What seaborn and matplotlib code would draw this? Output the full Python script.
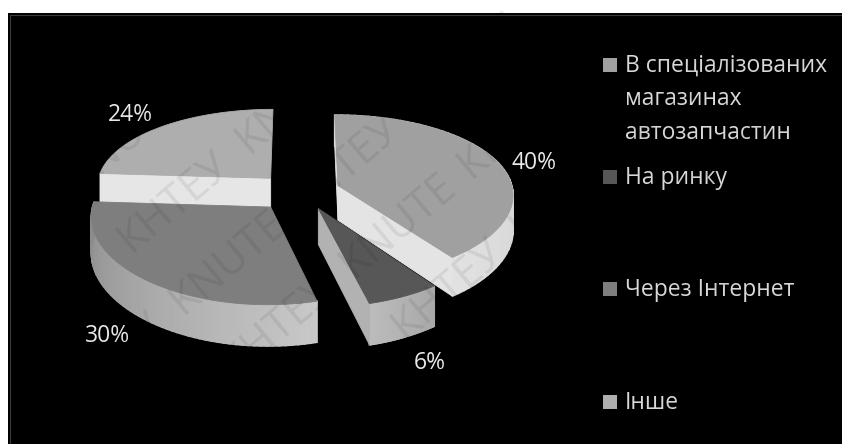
import numpy as np
import matplotlib
matplotlib.use("Agg")
import matplotlib.pyplot as plt
import seaborn as sns
from matplotlib.patches import Rectangle

sns.set_theme(style="white")
plt.rcParams['font.family'] = ['Open Sans', 'DejaVu Sans']

# data
categories = ["В спеціалізованих\nмагазинах\nавтозапчастин", "На ринку", "Через Інтернет", "Інше"]
shares = [40, 6, 30, 24]
top_colors = ["#a0a0a0", "#575757", "#7e7e7e", "#aeaeae"]
rim_colors = [["#b0b0b0", "#d0d0d0", "#e2e2e2"], ["#a8a8a8", "#bcbcbc"],
              ["#c8c8c8", "#a8a8a8", "#8a8a8a"], ["#9a9a9a", "#9a9a9a"]]
face_colors = ["#e4e4e4", "#b2b2b2", "#7e7e7e", "#e6e6e6"]
value_labels = ["40%", "6%", "30%", "24%"]

# projection of the tilted disc
cx, cy, a, b, k, kx, T, explode = 301.6, 191, 175, 81, 0.13, 0.10, 35, 0.22
nudge_x = [0, 0, -6, -5]
nudge_y = [0, 1, 2, 0]

def project(u, v, z=0.0):
    s = 1 / (1 + k * v)
    sx = 1 / (1 + kx * v)
    return cx + a * u * sx, cy - b * v * s + T * z * s

fig = plt.figure(figsize=(8.42, 4.44), dpi=100, facecolor="white")
ax = fig.add_axes([0, 0, 1, 1])
ax.set_xlim(0, 842)
ax.set_ylim(444, 0)
ax.axis("off")
ax.add_patch(Rectangle((8, 13), 840, 440, fc="black", ec="none", zorder=0))
ax.add_patch(Rectangle((10, 15), 840, 440, fc="none", ec="#3a3a3a", lw=0.8, zorder=0.5))

edges = np.cumsum([0] + shares) / sum(shares) * 2 * np.pi
order = [3, 2, 0, 1]
visible_cuts = {0: [0, 1], 1: [1], 2: [], 3: [0]}
z = 1.0
for i in order:
    t0, t1 = edges[i], edges[i + 1]
    mid = (t0 + t1) / 2
    ox, oy = explode * np.sin(mid), explode * np.cos(mid)
    th = np.linspace(t0, t1, 60)
    u = ox + np.sin(th)
    v = oy + np.cos(th)
    pal = sns.blend_palette(rim_colors[i], n_colors=len(th))
    nx, ny = nudge_x[i], nudge_y[i]
    if i != 3:  # the rim of the rear slice is hidden
        for j in range(len(th) - 1):
            x1, y1 = project(u[j:j + 2], v[j:j + 2])
            x2, y2 = project(u[j:j + 2], v[j:j + 2], 1.0)
            ax.fill(np.r_[x1, x2[::-1]] + nx, np.r_[y1, y2[::-1]] + ny, color=pal[j], lw=1.2, zorder=z)
            z += 0.001
    z += 1
    for c in visible_cuts[i]:
        tc = (t0, t1)[c]
        px = np.array([ox, ox + np.sin(tc)])
        py = np.array([oy, oy + np.cos(tc)])
        x1, y1 = project(px, py)
        x2, y2 = project(px, py, 1.0)
        ax.fill(np.r_[x1, x2[::-1]] + nx, np.r_[y1, y2[::-1]] + ny, color=face_colors[i], lw=0.6, zorder=z)
    z += 1
    x, y = project(np.r_[ox, u], np.r_[oy, v])
    ax.fill(x + nx, y + ny, color=top_colors[i], lw=0.6, zorder=z)
    z += 1

# value labels
label_pos = [(534, 163), (430, 363), (108, 336), (130, 115)]
for (lx, ly), s in zip(label_pos, value_labels):
    ax.text(lx, ly, s, color="#e8e8e8", fontsize=16.5, ha="center", va="center", zorder=60)

# legend
legend_y = [65, 177, 289, 402]
for yy, name, col in zip(legend_y, categories, top_colors):
    ax.add_patch(Rectangle((603, yy - 7), 14, 14, fc=col, ec="none", zorder=60))
    for n, line in enumerate(name.split("\n")):
        ax.text(625, yy + 0.5 + n * 33.5, line, color="#d8d8d8", fontsize=16.5,
                ha="left", va="center", zorder=60)

# watermark
renderer = fig.canvas.get_renderer()
words = ["КНТЕУ", "KNUTE"]
for row in range(-8, 16):
    for col in range(-6, 10):
        px = 20 + col * 118 + row * 52
        py = 120 - col * 99 + row * 62
        if not (-100 < px < 942 and -100 < py < 544):
            continue
        t = ax.text(px, py, words[(row + col) % 2], fontsize=31, color=(0, 0, 0, 0.075),
                    rotation=40, rotation_mode="anchor", ha="left", va="center", zorder=80)
        e = t.get_window_extent(renderer)
        if e.x0 < 1 or e.y0 < 1 or e.x1 > 841 or e.y1 > 443:
            t.remove()

fig.savefig("out.png", dpi=100, facecolor="white")
